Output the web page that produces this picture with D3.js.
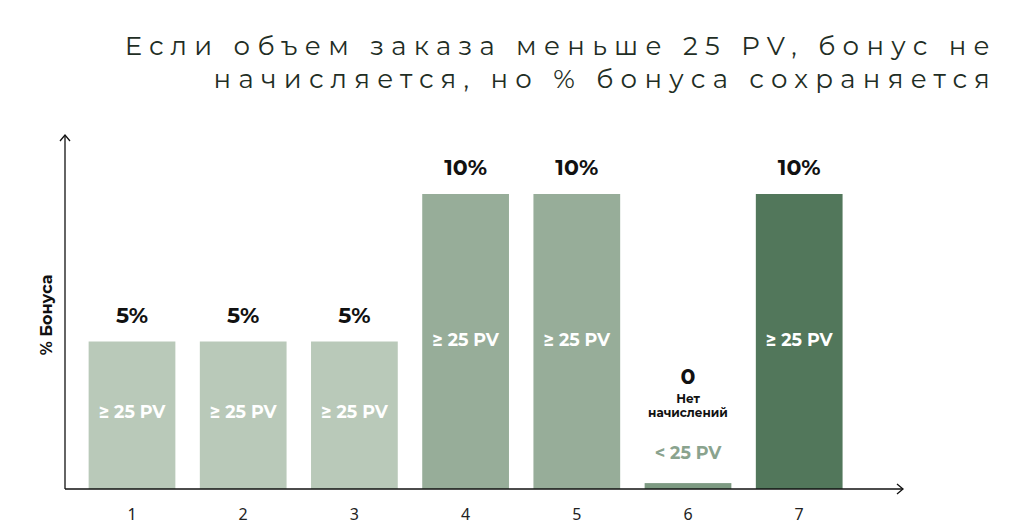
<!DOCTYPE html>
<html>
<head>
<meta charset="utf-8">
<script src="https://cdn.jsdelivr.net/npm/d3@7"></script>
<style>
  body { margin: 0; background: #fff; }
  text { font-family: "Montserrat", "Noto Sans", sans-serif; }
</style>
</head>
<body>
<svg id="chart" width="1024" height="529"></svg>
<script>
const categories = ["1", "2", "3", "4", "5", "6", "7"];
const bonusValues = [5, 5, 5, 10, 10, 0.2, 10];
const topLabels = ["5%", "5%", "5%", "10%", "10%", "0", "10%"];
const pvLabels = ["≥ 25 PV", "≥ 25 PV", "≥ 25 PV", "≥ 25 PV", "≥ 25 PV", "< 25 PV", "≥ 25 PV"];
const barColors = ["#b9c9b9", "#b9c9b9", "#b9c9b9", "#97ad99", "#97ad99", "#7d9a82", "#52775b"];
const titleLines = ["Если объем заказа меньше 25 PV, бонус не", "начисляется, но % бонуса сохраняется"];

const svg = d3.select("#chart");
const axisY0 = 489, axisX0 = 65;

const x = d3.scaleBand().domain(categories).range([76.4, 854.8]).paddingInner(0.22).paddingOuter(0.11);
const y = d3.scaleLinear().domain([0, 10]).range([axisY0, 194]);

// title
svg.selectAll(".title").data(titleLines).enter().append("text")
  .attr("x", 997).attr("y", (d, i) => 55 + i * 33)
  .attr("text-anchor", "end")
  .attr("font-size", 26).attr("letter-spacing", 7.3)
  .attr("fill", "#1f2e25")
  .text(d => d);

// bars
const data = categories.map((c, i) => ({ c, v: bonusValues[i], top: topLabels[i], pv: pvLabels[i], col: barColors[i] }));
svg.selectAll(".bar").data(data).enter().append("rect")
  .attr("x", d => x(d.c)).attr("width", x.bandwidth())
  .attr("y", d => y(d.v)).attr("height", d => axisY0 - y(d.v))
  .attr("fill", d => d.col);

const cx = d => x(d.c) + x.bandwidth() / 2;

svg.selectAll(".top").data(data).enter().append("text")
  .attr("x", cx)
  .attr("y", d => d.v > 1 ? y(d.v) - 19 : 384)
  .attr("text-anchor", "middle").attr("font-size", 22).attr("font-weight", 700)
  .attr("fill", "#111").text(d => d.top);

svg.selectAll(".pv").data(data).enter().append("text")
  .attr("x", cx)
  .attr("y", d => d.v > 7 ? 346 : d.v > 1 ? 418 : 459)
  .attr("text-anchor", "middle").attr("font-size", 17.5).attr("font-weight", 700)
  .attr("fill", d => d.v > 1 ? "#fff" : "#8aa38e").text(d => d.pv);

const zero = data[5];
svg.selectAll(".note").data(["Нет", "начислений"]).enter().append("text")
  .attr("x", cx(zero)).attr("y", (d, i) => 403 + i * 14)
  .attr("text-anchor", "middle").attr("font-size", 12).attr("font-weight", 700)
  .attr("fill", "#111").text(d => d);

// axes
const xAxis = svg.append("g").attr("transform", `translate(0,${axisY0})`)
  .call(d3.axisBottom(x).tickSize(0).tickPadding(20));
xAxis.select(".domain").remove();
xAxis.selectAll("text").attr("font-size", 16).attr("fill", "#222")
  .style("font-family", "'Noto Sans', sans-serif");

svg.append("line").attr("x1", axisX0).attr("x2", 903).attr("y1", axisY0).attr("y2", axisY0)
  .attr("stroke", "#111").attr("stroke-width", 1.3);
svg.append("path").attr("d", `M897,${axisY0 - 5}L903,${axisY0}L897,${axisY0 + 5}`)
  .attr("fill", "none").attr("stroke", "#111").attr("stroke-width", 1.3);
svg.append("line").attr("x1", axisX0).attr("x2", axisX0).attr("y1", axisY0).attr("y2", 135)
  .attr("stroke", "#111").attr("stroke-width", 1.3);
svg.append("path").attr("d", `M${axisX0 - 5},141L${axisX0},135L${axisX0 + 5},141`)
  .attr("fill", "none").attr("stroke", "#111").attr("stroke-width", 1.3);

svg.append("text").attr("transform", "translate(52,315) rotate(-90)")
  .attr("text-anchor", "middle").attr("font-size", 16).attr("font-weight", 700)
  .attr("fill", "#111").text("% Бонуса");
</script>
</body>
</html>
